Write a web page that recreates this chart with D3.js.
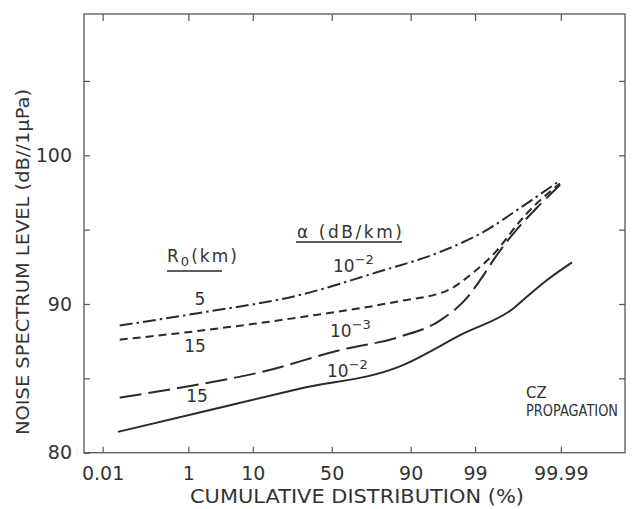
<!DOCTYPE html>
<html>
<head>
<meta charset="utf-8">
<script src="https://cdn.jsdelivr.net/npm/d3@7"></script>
<style>
  html, body { margin: 0; padding: 0; background: #fff; }
  svg text { font-family: "DejaVu Sans", sans-serif; fill: #333; }
</style>
</head>
<body>
<svg id="chart" width="636" height="509"></svg>
<script>
// Cumulative distribution (%) tick labels on the probability axis
const xTickPct = [0.01, 1, 10, 50, 90, 99, 99.99];
const xTickLabels = ["0.01", "1", "10", "50", "90", "99", "99.99"];
const yMajorTicks = [80, 90, 100];
const yMinorTicks = [85, 95, 105];

// R0 = 5 km, alpha = 1e-2 dB/km (dash-dot)
const r5a2Pct = [0.029, 1.6, 30, 78.4, 96.1, 99.49, 99.866, 99.9895];
const r5a2Db  = [88.55, 89.4, 90.6, 92.2, 93.5, 95.1, 96.3, 98.3];

// R0 = 15 km, alpha = 1e-3 dB/km (short dash)
const r15a3Pct = [0.029, 1.6, 30, 86.6, 96.94, 98.91, 99.635, 99.866, 99.924, 99.9895];
const r15a3Db  = [87.6, 88.2, 89.1, 90.2, 90.9, 92.1, 93.6, 95.3, 96.1, 98.1];

// R0 = 15 km, alpha = 1e-2 dB/km (long dash)
const r15a2Pct = [0.029, 1.6, 12.2, 55.4, 86.6, 96.1, 98.65, 99.2, 99.635, 99.866, 99.956, 99.9895];
const r15a2Db  = [83.7, 84.6, 85.4, 86.9, 87.8, 88.9, 90.5, 91.6, 93.3, 95.0, 96.45, 98.0];

// CZ propagation (solid)
const czPct = [0.026, 1.6, 30, 86.6, 98.35, 99.84, 99.924, 99.976, 99.9952];
const czDb  = [81.4, 82.7, 84.3, 85.8, 88.0, 89.7, 90.5, 91.6, 92.8];

// Inverse standard normal CDF (Acklam's rational approximation)
function probit(p) {
  const a = [-3.969683028665376e+01, 2.209460984245205e+02, -2.759285104469687e+02,
             1.383577518672690e+02, -3.066479806614716e+01, 2.506628277459239e+00];
  const b = [-5.447609879822406e+01, 1.615858368580409e+02, -1.556989798598866e+02,
             6.680131188771972e+01, -1.328068155288572e+01];
  const c = [-7.784894002430293e-03, -3.223964580411365e-01, -2.400758277161838e+00,
             -2.549732539343734e+00, 4.374664141464968e+00, 2.938163982698783e+00];
  const d = [7.784695709041462e-03, 3.224671290700398e-01, 2.445134137142996e+00,
             3.754408661907416e+00];
  const plow = 0.02425, phigh = 1 - plow;
  let q, r;
  if (p < plow) {
    q = Math.sqrt(-2 * Math.log(p));
    return (((((c[0]*q+c[1])*q+c[2])*q+c[3])*q+c[4])*q+c[5]) /
           ((((d[0]*q+d[1])*q+d[2])*q+d[3])*q+1);
  } else if (p <= phigh) {
    q = p - 0.5; r = q * q;
    return (((((a[0]*r+a[1])*r+a[2])*r+a[3])*r+a[4])*r+a[5])*q /
           (((((b[0]*r+b[1])*r+b[2])*r+b[3])*r+b[4])*r+1);
  } else {
    q = Math.sqrt(-2 * Math.log(1 - p));
    return -(((((c[0]*q+c[1])*q+c[2])*q+c[3])*q+c[4])*q+c[5]) /
            ((((d[0]*q+d[1])*q+d[2])*q+d[3])*q+1);
  }
}

const svg = d3.select("#chart");
const plotLeft = 84, plotRight = 625, plotTop = 14, plotBottom = 452.7;

// Normal-probability x scale: linear in z, with z = probit(p)
const zScale = d3.scaleLinear().domain([-4.021, 4.761]).range([plotLeft, plotRight]);
const x = pct => zScale(probit(pct / 100));
const y = d3.scaleLinear().domain([80, 109.5]).range([plotBottom, plotTop]);

const ink = "#2a2a2a";
const frameInk = "#555";

// Frame
svg.append("rect")
  .attr("x", plotLeft).attr("y", plotTop)
  .attr("width", plotRight - plotLeft).attr("height", plotBottom - plotTop)
  .attr("fill", "none").attr("stroke", frameInk).attr("stroke-width", 1.3);

// Bottom axis: inward ticks with labels
const xTickZ = xTickPct.map(p => probit(p / 100));
const xAxis = d3.axisBottom(zScale)
  .tickValues(xTickZ)
  .tickSize(-6)
  .tickPadding(14)
  .tickFormat((d, i) => xTickLabels[i]);
const gx = svg.append("g").attr("transform", `translate(0,${plotBottom})`).call(xAxis);
gx.select(".domain").remove();
gx.selectAll(".tick line").attr("stroke", frameInk).attr("stroke-width", 1.2);
gx.selectAll(".tick text")
  .attr("font-size", 19).attr("fill", "#333").attr("dy", "0.71em")
  .style("font-family", "'DejaVu Sans', sans-serif");

// Top axis: inward ticks only
const gxt = svg.append("g").attr("transform", `translate(0,${plotTop})`)
  .call(d3.axisTop(zScale).tickValues(xTickZ).tickSize(-7).tickFormat(""));
gxt.select(".domain").remove();
gxt.selectAll(".tick line").attr("stroke", frameInk).attr("stroke-width", 1.2);

// Left axis: labelled majors, unlabelled minors, all inward
const gy = svg.append("g").attr("transform", `translate(${plotLeft},0)`)
  .call(d3.axisLeft(y).tickValues(yMajorTicks).tickSize(-6).tickPadding(12).tickFormat(d3.format("d")));
gy.select(".domain").remove();
gy.selectAll(".tick line").attr("stroke", frameInk).attr("stroke-width", 1.2);
gy.selectAll(".tick text")
  .attr("font-size", 19).attr("fill", "#333")
  .style("font-family", "'DejaVu Sans', sans-serif");

const gym = svg.append("g").attr("transform", `translate(${plotLeft},0)`)
  .call(d3.axisLeft(y).tickValues(yMinorTicks).tickSize(-6).tickFormat(""));
gym.select(".domain").remove();
gym.selectAll(".tick line").attr("stroke", frameInk).attr("stroke-width", 1.2);

// Right axis: inward ticks
const gyr = svg.append("g").attr("transform", `translate(${plotRight},0)`)
  .call(d3.axisRight(y).tickValues(yMajorTicks.concat(yMinorTicks).filter(v => v > 80)).tickSize(-6).tickFormat(""));
gyr.select(".domain").remove();
gyr.selectAll(".tick line").attr("stroke", frameInk).attr("stroke-width", 1.2);

// Curves
const line = d3.line()
  .x(d => x(d[0]))
  .y(d => y(d[1]))
  .curve(d3.curveMonotoneX);

const series = [
  { pct: czPct,    db: czDb,    dash: null },
  { pct: r15a2Pct, db: r15a2Db, dash: "22,7" },
  { pct: r15a3Pct, db: r15a3Db, dash: "8,5" },
  { pct: r5a2Pct,  db: r5a2Db,  dash: "13,4,2.5,4" }
];

svg.append("g").selectAll("path")
  .data(series)
  .join("path")
  .attr("d", s => line(s.pct.map((p, i) => [p, s.db[i]])))
  .attr("fill", "none")
  .attr("stroke", ink)
  .attr("stroke-width", 2)
  .attr("stroke-dasharray", s => s.dash);

// Axis titles
svg.append("text")
  .attr("transform", "translate(29,262) rotate(-90)")
  .attr("text-anchor", "middle")
  .attr("font-size", 18)
  .attr("textLength", 346).attr("lengthAdjust", "spacingAndGlyphs")
  .text("NOISE SPECTRUM LEVEL (dB//1\u03bcPa)");

svg.append("text")
  .attr("x", 357).attr("y", 503)
  .attr("text-anchor", "middle")
  .attr("font-size", 19)
  .attr("textLength", 334).attr("lengthAdjust", "spacingAndGlyphs")
  .text("CUMULATIVE DISTRIBUTION (%)");

// Column headings
const rHead = svg.append("text").attr("x", 167).attr("y", 262).attr("font-size", 17)
  .attr("textLength", 70).attr("lengthAdjust", "spacing");
rHead.append("tspan").text("R");
rHead.append("tspan").attr("dy", 4).attr("font-size", 13).text("0");
rHead.append("tspan").attr("dy", -4).text("(km)");
svg.append("line").attr("x1", 167).attr("x2", 222).attr("y1", 271).attr("y2", 271)
  .attr("stroke", ink).attr("stroke-width", 1.5);

svg.append("text").attr("x", 297).attr("y", 238).attr("font-size", 17)
  .attr("textLength", 105).attr("lengthAdjust", "spacing")
  .text("\u03b1 (dB/km)");
svg.append("line").attr("x1", 296).attr("x2", 402).attr("y1", 242).attr("y2", 242)
  .attr("stroke", ink).attr("stroke-width", 1.5);

// Curve parameter labels
function powLabel(px, py, exp) {
  const t = svg.append("text").attr("x", px).attr("y", py).attr("font-size", 17);
  t.append("tspan").text("10");
  t.append("tspan").attr("dy", -8).attr("font-size", 13).text("\u2212" + exp);
}
powLabel(333, 272, 2);
powLabel(330, 337, 3);
powLabel(327, 377, 2);

svg.append("text").attr("x", 200).attr("y", 305).attr("font-size", 17).attr("text-anchor", "middle").text("5");
svg.append("text").attr("x", 195).attr("y", 352).attr("font-size", 17).attr("text-anchor", "middle").text("15");
svg.append("text").attr("x", 197).attr("y", 402).attr("font-size", 17).attr("text-anchor", "middle").text("15");

svg.append("text").attr("x", 526).attr("y", 398).attr("font-size", 15).text("CZ");
svg.append("text").attr("x", 526).attr("y", 416).attr("font-size", 15)
  .attr("textLength", 92).attr("lengthAdjust", "spacingAndGlyphs")
  .text("PROPAGATION");
</script>
</body>
</html>
